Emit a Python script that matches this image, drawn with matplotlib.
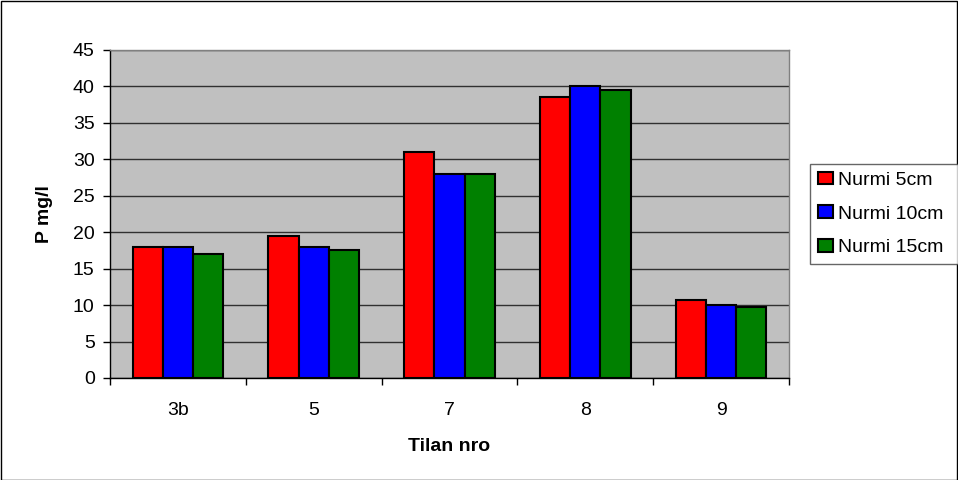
import numpy as np
import matplotlib.pyplot as plt
from matplotlib.patches import Rectangle

plt.rcParams['font.family'] = ['Liberation Sans', 'DejaVu Sans']

categories = ['3b', '5', '7', '8', '9']
nurmi_5 = [18, 19.5, 31, 38.5, 10.7]
nurmi_10 = [18, 18, 28, 40, 10]
nurmi_15 = [17, 17.5, 28, 39.5, 9.8]
labels = ['Nurmi 5cm', 'Nurmi 10cm', 'Nurmi 15cm']
colors = ['#ff0000', '#0000ff', '#008000']

W, H = 958, 480
fs = 14
fig = plt.figure(figsize=(W / 100, H / 100), dpi=100)
fig.patches.append(Rectangle((0.5 / W, 0.5 / H), 1 - 1.5 / W, 1 - 1.5 / H,
                             transform=fig.transFigure, fill=False,
                             edgecolor='black', linewidth=1))

ax = fig.add_axes([110 / W, (H - 378) / H, 679 / W, 328 / H])
ax.set_facecolor('#c0c0c0')

x = np.arange(len(categories))
w = 1 / 4.5
series = [nurmi_5, nurmi_10, nurmi_15]
for i, vals in enumerate(series):
    ax.bar(x + (i - 1) * w, vals, width=w, color=colors[i], edgecolor='black',
           linewidth=1.5, label=labels[i], zorder=3)

ax.set_xlim(-0.5, len(categories) - 0.5)
ax.set_ylim(0, 45)
ax.set_yticks(range(0, 46, 5))
ax.yaxis.grid(True, color='#303030', linewidth=1, zorder=0)
ax.set_axisbelow(True)

ax.set_xticks(x)
ax.set_xticklabels(categories)
ax.set_xticks(np.arange(-0.5, len(categories), 1), minor=True)
ax.tick_params(axis='x', which='major', length=0, pad=17, labelsize=fs)
ax.tick_params(axis='x', which='minor', length=5, color='black', width=1, direction='out')
ax.tick_params(axis='y', length=5, width=1, labelsize=fs, pad=6)

ax.spines['left'].set_color('black')
ax.spines['bottom'].set_color('black')
ax.spines['top'].set_color('#808080')
ax.spines['right'].set_color('#808080')
for s in ax.spines.values():
    s.set_linewidth(1)

ax.set_xlabel('Tilan nro', fontsize=fs, fontweight='bold', labelpad=14)
ax.set_ylabel('P mg/l', fontsize=fs, fontweight='bold', labelpad=14)

leg = fig.legend(loc='center left', bbox_to_anchor=(810 / W, 1 - 265 / H, 170 / W, 102 / H),
                 mode='expand', fontsize=fs, frameon=True, fancybox=False,
                 edgecolor='#404040', handlelength=0.77, handleheight=0.62,
                 handletextpad=0.28, borderpad=0.4, labelspacing=0.86,
                 borderaxespad=0)
leg.get_frame().set_linewidth(1)

fig.savefig('out.png', dpi=100)
